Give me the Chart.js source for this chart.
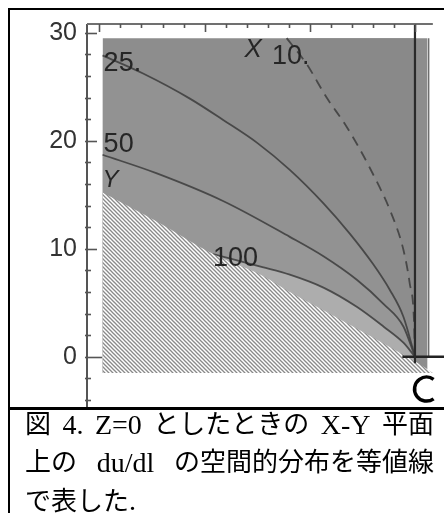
<!DOCTYPE html>
<html>
<head>
<meta charset="utf-8">
<script src="https://cdn.jsdelivr.net/npm/chart.js@4.4.0/dist/chart.umd.min.js"></script>
<style>
html, body { margin: 0; padding: 0; background: #fff; }
body { width: 444px; height: 513px; position: relative; overflow: hidden; }
#plot { position: absolute; left: 0; top: 0; }
.rule { position: absolute; background: #000; }
#caption {
  position: absolute; left: 25px; top: 406px; width: 409px;
  font-family: "Liberation Serif", "Noto Sans CJK JP", serif;
  font-size: 26px; line-height: 38px; color: #000;
}
#caption .row { display: flex; justify-content: space-between; }
#caption .lat { font-size: 28px; }
</style>
</head>
<body>
<canvas id="plot" width="444" height="408"></canvas>
<div class="rule" style="left:8px;top:8px;width:436px;height:2px"></div>
<div class="rule" style="left:8px;top:8px;width:2px;height:505px"></div>
<div class="rule" style="left:8px;top:407px;width:436px;height:2.5px"></div>
<div id="caption">
  <div class="row"><span>図</span><span class="lat">4.</span><span class="lat">Z=0</span><span>としたときの</span><span class="lat">X-Y</span><span>平面</span></div>
  <div class="row"><span>上の</span><span class="lat">du/dl</span><span>の空間的分布を等値線</span></div>
  <div>で表した<span class="lat">.</span></div>
</div>
<script>
// tick labels on the left frame
const yTickLabels = [0, 10, 20, 30];

// contour lines (X, Y)
const c10X = [-12.2, -10.3, -8.4, -6.5, -4.3, -2.1, -1.1, -0.5, -0.1, 0];
const c10Y = [29.5, 27.1, 24.0, 21.3, 17.5, 12.9, 9.9, 6.8, 3.5, 0];
const c25X = [-29.7, -25.8, -21.4, -18.2, -15.0, -11.9, -8.7, -6.2, -4.0, -2.4, -1.1, 0];
const c25Y = [27.9, 26.2, 23.9, 21.9, 19.8, 17.3, 14.2, 11.4, 8.6, 6.2, 3.7, 0];
const c50X = [-29.7, -24.6, -18.2, -11.9, -8.7, -5.5, -3.0, -1.1, 0];
const c50Y = [18.7, 17.0, 14.4, 11.1, 9.3, 7.1, 4.9, 2.8, 0];
const c100X = [-19.2, -14.5, -11.9, -8.7, -5.5, -3.0, -1.1, 0];
const c100Y = [9.5, 8.3, 7.6, 6.4, 4.6, 2.8, 1.3, 0];

// edge of the hatched (out of range) region
const edgeX = [-29.7, -24.5, -19.2, -14.5, -11.9, -8.7, -5.5, -2.4, 0.8, 1.7];
const edgeY = [15.2, 12.5, 9.5, 7.5, 6.0, 4.3, 2.6, 0.9, -0.9, -1.5];

// plotted region and the axis lines near the origin
const regionX = [-29.7, 1.2];
const regionY = [-1.5, 29.5];
const axisX = [0, 0];
const axisY = [30.8, -0.6];
const stripX = [1.3, 1.3];
const stripY = [29.5, 0];
const baseX = [-1.2, 2.8];
const baseY = [0, 0];

const pts = (xs, ys) => xs.map((v, i) => ({ x: v, y: ys[i] }));

function hatchPattern() {
    const c = document.createElement('canvas');
    c.width = 4; c.height = 4;
    const g = c.getContext('2d');
    g.fillStyle = '#fff';
    g.fillRect(0, 0, 4, 4);
    g.strokeStyle = '#8a8a8a';
    g.lineWidth = 1.3;
    g.beginPath(); g.moveTo(-1, -1); g.lineTo(5, 5); g.stroke();
    g.beginPath(); g.moveTo(-1, 3); g.lineTo(1, 5); g.stroke();
    g.beginPath(); g.moveTo(3, -1); g.lineTo(5, 1); g.stroke();
    return g.createPattern(c, 'repeat');
}

const lineGrey = 'rgba(60,60,60,0.85)';

// frame, ticks and text labels, placed with the chart's scales
const framePlugin = {
    id: 'frame',
    afterDatasetsDraw(chart) {
        const { ctx, chartArea: a, scales: { x, y } } = chart;
        ctx.save();
        ctx.lineWidth = 2;
        ctx.strokeStyle = '#555';
        ctx.beginPath(); ctx.moveTo(a.left, a.top); ctx.lineTo(a.left, a.bottom); ctx.stroke();
        ctx.strokeStyle = '#707070';
        ctx.beginPath(); ctx.moveTo(a.left, a.top); ctx.lineTo(x.getPixelForValue(1.7), a.top); ctx.stroke();

        ctx.strokeStyle = '#555';
        ctx.lineWidth = 1.6;
        for (let v = -4; v <= 30; v += 2) {
            const py = Math.round(y.getPixelForValue(v)) + 0.5;
            const len = v === 0 ? 15 : (v % 10 === 0 ? 10 : 4);
            ctx.beginPath(); ctx.moveTo(a.left - 2, py); ctx.lineTo(a.left + len, py); ctx.stroke();
        }
        for (let v = -30; v <= 0; v += 2) {
            const px = Math.round(x.getPixelForValue(v)) + 0.5;
            const len = v % 10 === 0 ? 8 : 4;
            ctx.beginPath(); ctx.moveTo(px, a.top); ctx.lineTo(px, a.top + len); ctx.stroke();
        }

        ctx.fillStyle = '#333';
        ctx.font = '25px "Liberation Sans", Arial, sans-serif';
        ctx.textAlign = 'right';
        ctx.textBaseline = 'middle';
        yTickLabels.forEach(v => ctx.fillText(String(v), a.left - 10, y.getPixelForValue(v)));

        ctx.textAlign = 'left';
        ctx.textBaseline = 'alphabetic';
        ctx.fillStyle = '#262626';
        ctx.font = '27px "Liberation Sans", Arial, sans-serif';
        ctx.fillText('25.', x.getPixelForValue(-29.6), y.getPixelForValue(26.45));
        ctx.fillText('50', x.getPixelForValue(-29.6), y.getPixelForValue(18.95));
        ctx.fillText('100', x.getPixelForValue(-19.2), y.getPixelForValue(8.4));
        ctx.fillText('10.', x.getPixelForValue(-13.6), y.getPixelForValue(27.1));
        ctx.font = 'italic 26px "Liberation Sans", Arial, sans-serif';
        ctx.fillText('X', x.getPixelForValue(-16.2), y.getPixelForValue(27.75));
        ctx.font = 'italic 24px "Liberation Sans", Arial, sans-serif';
        ctx.fillText('Y', x.getPixelForValue(-29.7), y.getPixelForValue(15.7));

        // ring marker below the origin, open to the right
        ctx.strokeStyle = '#000';
        ctx.lineWidth = 3.5;
        ctx.beginPath();
        ctx.arc(x.getPixelForValue(1.1), y.getPixelForValue(-3.0), 12, Math.PI * 0.3, Math.PI * 1.7);
        ctx.stroke();
        ctx.restore();
    }
};

const ctx = document.getElementById('plot').getContext('2d');
new Chart(ctx, {
    type: 'line',
    data: {
        datasets: [
            {
                data: pts(axisX, axisY), borderColor: '#2a2a2a', borderWidth: 2.2, fill: false, order: 1
            },
            {
                data: pts(baseX, baseY), borderColor: '#222', borderWidth: 2.5, fill: false, order: 1
            },
            {
                data: pts(stripX, stripY), borderColor: '#6e6e6e', borderWidth: 1.5, fill: false, order: 2
            },
            {
                data: pts(edgeX, edgeY), borderWidth: 0, borderColor: 'transparent',
                backgroundColor: hatchPattern(), fill: { value: regionY[0] }, order: 5
            },
            {
                data: pts(c100X, c100Y), borderColor: lineGrey, borderWidth: 1.8,
                backgroundColor: '#adadad', fill: { value: regionY[0] }, order: 6
            },
            {
                data: pts(c50X, c50Y), borderColor: lineGrey, borderWidth: 1.8,
                backgroundColor: '#979797', fill: { value: regionY[0] }, order: 7
            },
            {
                data: pts(c25X, c25Y), borderColor: lineGrey, borderWidth: 1.8,
                backgroundColor: '#929292', fill: { value: regionY[0] }, order: 8
            },
            {
                data: pts(c10X, c10Y), borderColor: lineGrey, borderWidth: 1.8, borderDash: [10, 7],
                backgroundColor: '#898989', fill: { value: regionY[1] }, order: 9
            },
            {
                data: pts(regionX, [regionY[1], regionY[1]]), borderWidth: 0, borderColor: 'transparent',
                backgroundColor: '#8d8d8d', fill: { value: regionY[0] }, order: 10
            }
        ]
    },
    options: {
        responsive: false,
        animation: false,
        layout: { padding: { left: 87, top: 24, right: 0, bottom: 0 } },
        elements: {
            point: { radius: 0 },
            line: { cubicInterpolationMode: 'monotone' }
        },
        scales: {
            x: { type: 'linear', min: -31.18, max: 2.76, display: false },
            y: { type: 'linear', min: -4.75, max: 30.81, display: false }
        },
        plugins: {
            legend: { display: false },
            tooltip: { enabled: false }
        }
    },
    plugins: [framePlugin]
});
</script>
</body>
</html>
